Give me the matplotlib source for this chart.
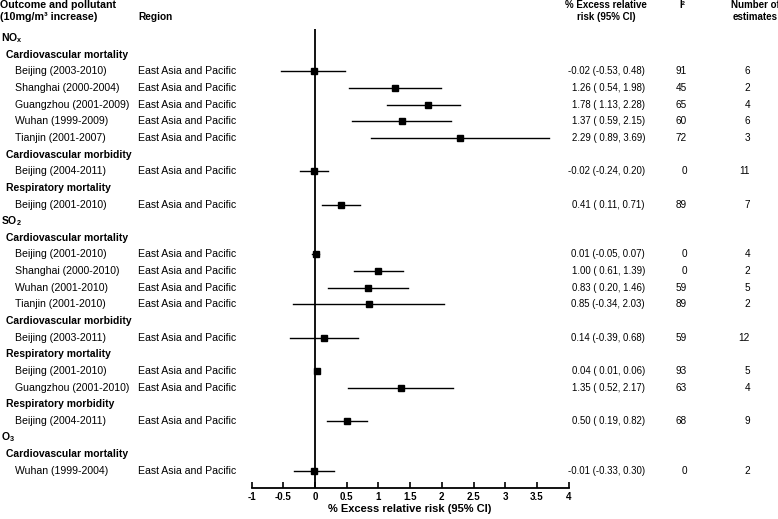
import matplotlib
matplotlib.use("Agg")
import matplotlib.pyplot as plt
import matplotlib.transforms as mtransforms

plt.rcParams['font.family'] = ['Liberation Sans', 'DejaVu Sans']
plt.rcParams['mathtext.default'] = 'regular'

# ---- data ----
pollutants = ["NOx", "NOx", "NOx", "NOx", "NOx", "NOx", "NOx",
              "SO2", "SO2", "SO2", "SO2", "SO2", "SO2", "SO2", "SO2", "O3"]
outcomes = ["Cardiovascular mortality"] * 5 + ["Cardiovascular morbidity", "Respiratory mortality"] + \
           ["Cardiovascular mortality"] * 4 + ["Cardiovascular morbidity"] + \
           ["Respiratory mortality"] * 2 + ["Respiratory morbidity", "Cardiovascular mortality"]
cities = ["Beijing (2003-2010)", "Shanghai (2000-2004)", "Guangzhou (2001-2009)", "Wuhan (1999-2009)",
          "Tianjin (2001-2007)", "Beijing (2004-2011)", "Beijing (2001-2010)",
          "Beijing (2001-2010)", "Shanghai (2000-2010)", "Wuhan (2001-2010)", "Tianjin (2001-2010)",
          "Beijing (2003-2011)", "Beijing (2001-2010)", "Guangzhou (2001-2010)", "Beijing (2004-2011)",
          "Wuhan (1999-2004)"]
regions = ["East Asia and Pacific"] * 16
estimates = [-0.02, 1.26, 1.78, 1.37, 2.29, -0.02, 0.41, 0.01, 1.00, 0.83, 0.85, 0.14, 0.04, 1.35, 0.50, -0.01]
lower = [-0.53, 0.54, 1.13, 0.59, 0.89, -0.24, 0.11, -0.05, 0.61, 0.20, -0.34, -0.39, 0.01, 0.52, 0.19, -0.33]
upper = [0.48, 1.98, 2.28, 2.15, 3.69, 0.20, 0.71, 0.07, 1.39, 1.46, 2.03, 0.68, 0.06, 2.17, 0.82, 0.30]
i2 = [91, 45, 65, 60, 72, 0, 89, 0, 0, 59, 89, 59, 93, 63, 68, 0]
n_est = [6, 2, 4, 6, 3, 11, 7, 4, 2, 5, 2, 12, 5, 4, 9, 2]
pollutant_labels = {"NOx": r"NO$_{x}$", "SO2": r"SO$_{2}$", "O3": r"O$_{3}$"}
xticks = [-1, -0.5, 0, 0.5, 1, 1.5, 2, 2.5, 3, 3.5, 4]

# ---- build rows ----
rows = []
prev_p, prev_o = None, None
for i in range(len(cities)):
    if pollutants[i] != prev_p:
        rows.append(("pollutant", pollutant_labels[pollutants[i]]))
        prev_o = None
    if outcomes[i] != prev_o:
        rows.append(("outcome", outcomes[i]))
    rows.append(("study", i))
    prev_p, prev_o = pollutants[i], outcomes[i]

W, H = 778, 519
fig = plt.figure(figsize=(W / 100, H / 100), dpi=100)

def fx(px):
    return px / W

def fy(py):
    return 1 - py / H

ax_left, ax_right = 251.5, 568.7
ax_top, ax_bottom = 29, 488
ax = fig.add_axes([fx(ax_left), fy(ax_bottom), fx(ax_right - ax_left), (ax_bottom - ax_top) / H])
row0, rowstep = 38, 16.65
ax.set_xlim(-1, 4)
ax.set_ylim((ax_bottom - row0) / rowstep, (ax_top - row0) / rowstep)

for s in ["top", "right", "left"]:
    ax.spines[s].set_visible(False)
ax.spines["bottom"].set_linewidth(1.3)
ax.set_yticks([])
ax.set_xticks(xticks)
ax.set_xticklabels([f"{t:g}" for t in xticks], fontweight="bold", fontsize=7)
ax.tick_params(axis="x", direction="in", length=4, width=1.2, pad=3)
ax.set_xlabel("% Excess relative risk (95% CI)", fontweight="bold", fontsize=8, labelpad=1)
ax.axvline(0, color="black", lw=1.3, zorder=1)
ax.patch.set_alpha(0)

tr = mtransforms.blended_transform_factory(fig.transFigure, ax.transData)
fs_left = 7.6
fs_val = 6.9
for r, (kind, payload) in enumerate(rows):
    if kind == "pollutant":
        fig.text(fx(1), r, payload, transform=tr, fontsize=7.5, fontweight="bold", va="center", ha="left")
    elif kind == "outcome":
        fig.text(fx(6), r, payload, transform=tr, fontsize=7.5, fontweight="bold", va="center", ha="left")
    else:
        i = payload
        fig.text(fx(15), r, cities[i], transform=tr, fontsize=fs_left, va="center", ha="left")
        fig.text(fx(138), r, regions[i], transform=tr, fontsize=fs_left, va="center", ha="left")
        txt = f"{estimates[i]:.2f} ({lower[i]:5.2f}, {upper[i]:.2f})"
        fig.text(fx(645), r, txt, transform=tr, fontsize=fs_val, va="center", ha="right")
        fig.text(fx(687), r, str(i2[i]), transform=tr, fontsize=7.2, va="center", ha="right")
        fig.text(fx(750), r, str(n_est[i]), transform=tr, fontsize=7.2, va="center", ha="right")
        ax.plot([lower[i], upper[i]], [r, r], color="black", lw=1.0, zorder=2, clip_on=False)
        ax.plot([estimates[i]], [r], marker="s", color="black", markersize=4, zorder=3, clip_on=False)

# headers
fig.text(fx(0), fy(5), "Outcome and pollutant", fontsize=7.7, fontweight="bold", va="center", ha="left")
fig.text(fx(0), fy(17), "(10mg/m³ increase)", fontsize=7.7, fontweight="bold", va="center", ha="left")
fig.text(fx(138), fy(17), "Region", fontsize=7.3, fontweight="bold", va="center", ha="left")
fig.text(fx(606), fy(5), "% Excess relative", fontsize=7, fontweight="bold", va="center", ha="center")
fig.text(fx(606), fy(17), "risk (95% CI)", fontsize=7, fontweight="bold", va="center", ha="center")
fig.text(fx(682), fy(5), "I²", fontsize=7, fontweight="bold", va="center", ha="center")
fig.text(fx(755), fy(5), "Number of", fontsize=7, fontweight="bold", va="center", ha="center")
fig.text(fx(755), fy(17), "estimates", fontsize=7, fontweight="bold", va="center", ha="center")

fig.savefig("out.png", dpi=100)
